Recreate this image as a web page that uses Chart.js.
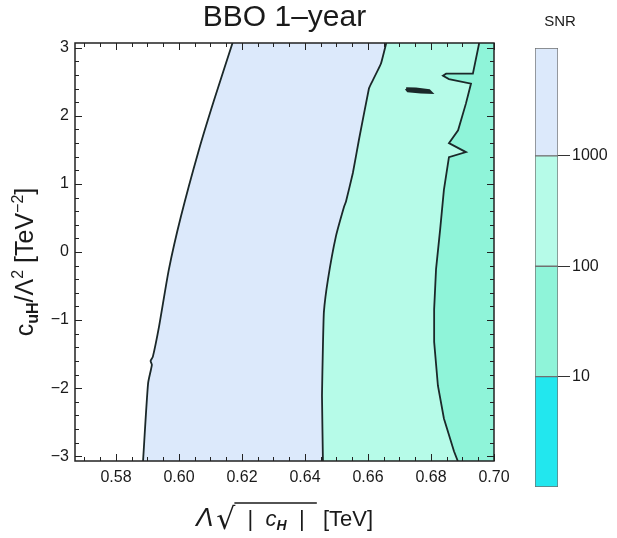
<!DOCTYPE html>
<html><head><meta charset="utf-8">
<script src="https://cdn.jsdelivr.net/npm/chart.js@4"></script>
<style>
html,body{margin:0;padding:0;background:#fff;}
#wrap{position:relative;width:617px;height:538px;overflow:hidden;}
#main{position:absolute;left:0;top:0;}
#bar{position:absolute;left:503px;top:0;}
</style></head><body>
<div id="wrap"><canvas id="main" width="617" height="538"></canvas><canvas id="bar" width="114" height="538"></canvas></div>
<script>
// ---- axes ----
const X_RANGE = [0.567, 0.7];
const Y_RANGE = [-3.07, 3.07];
const X_TICKS = [0.58, 0.60, 0.62, 0.64, 0.66, 0.68, 0.70];
const Y_TICKS = [-3, -2, -1, 0, 1, 2, 3];
const X_MINOR = 0.005;
const Y_MINOR = 0.2;

// ---- contour lines (x read at each y) ----
// boundary white / SNR>1000
const contourA_x = [0.5886, 0.5902, 0.5914, 0.5910, 0.5917, 0.5937, 0.5968, 0.6006, 0.6063, 0.6111, 0.6170];
const contourA_y = [-3.07, -1.93, -1.657, -1.60, -1.54, -1.088, -0.255, 0.518, 1.496, 2.226, 3.07];
// boundary SNR = 1000 / 100
const contourB_x = [0.6457, 0.6454, 0.6457, 0.6460, 0.6473, 0.6498, 0.6524, 0.6530, 0.6552, 0.6571, 0.6603, 0.6610, 0.6641, 0.6658];
const contourB_y = [-3.07, -2.109, -1.380, -0.883, -0.401, 0.226, 0.664, 0.737, 1.161, 1.642, 2.401, 2.474, 2.766, 3.07];
// boundary SNR = 100 / 10
const contourC_x = [0.6885, 0.6873, 0.6841, 0.6822, 0.6810, 0.6810, 0.6816, 0.6829, 0.6841, 0.6857, 0.6911, 0.6857, 0.6886, 0.6911, 0.6927, 0.6857, 0.6838, 0.6848, 0.6933, 0.6953];
const contourC_y = [-3.07, -2.927, -2.445, -1.964, -1.321, -0.839, -0.255, 0.328, 0.912, 1.394, 1.467, 1.599, 1.788, 2.183, 2.474, 2.540, 2.590, 2.620, 2.620, 3.07];
// small closed contour
const island_x = [0.6721, 0.6752, 0.6794, 0.6800, 0.6768, 0.6727, 0.6721];
const island_y = [2.401, 2.394, 2.372, 2.343, 2.350, 2.365, 2.401];

// ---- colour bar ----
const SNR_LEVELS = [1, 10, 100, 1000, 9500];
const SNR_TICKS = [10, 100, 1000];
const SNR_COLORS = ['#22e7ee', '#8ff4d9', '#b6fbe8', '#dce9fb'];

const FONT = '"Liberation Sans", Arial, sans-serif';
const LINE_COLOR = '#1b2829';
const TEXT_COLOR = '#1a1a1a';

const pts = (xs, ys) => xs.map((x, i) => ({x, y: ys[i]}));
// region right of a contour: contour + right edge of the plot
const region = (xs, ys) => pts(xs, ys).concat([{x: X_RANGE[1], y: Y_RANGE[1]}, {x: X_RANGE[1], y: Y_RANGE[0]}]);

const fillDs = (data, color) => ({data, showLine: true, fill: 'shape', backgroundColor: color,
  borderColor: 'rgba(0,0,0,0)', borderWidth: 0, pointRadius: 0, pointHoverRadius: 0, tension: 0});
const lineDs = (data, w, t) => ({data, showLine: true, fill: false, borderColor: LINE_COLOR,
  borderWidth: w, pointRadius: 0, pointHoverRadius: 0, tension: t});

const frameTicks = {
  id: 'frameTicks',
  afterDatasetsDraw(chart) {
    const {ctx, chartArea: a, scales: {x, y}} = chart;
    ctx.save();
    ctx.strokeStyle = '#222';
    ctx.lineWidth = 1;
    ctx.beginPath();
    for (let i = Math.ceil(X_RANGE[0] / X_MINOR - 1e-6); i <= Math.floor(X_RANGE[1] / X_MINOR + 1e-6); i++) {
      const v = i * X_MINOR;
      const major = X_TICKS.some(t => Math.abs(t - v) < 1e-6);
      const len = major ? 7 : 4;
      const px = Math.round(x.getPixelForValue(v)) + 0.5;
      ctx.moveTo(px, a.bottom); ctx.lineTo(px, a.bottom - len);
      ctx.moveTo(px, a.top); ctx.lineTo(px, a.top + len);
    }
    for (let i = Math.ceil(Y_RANGE[0] / Y_MINOR - 1e-6); i <= Math.floor(Y_RANGE[1] / Y_MINOR + 1e-6); i++) {
      const v = i * Y_MINOR;
      const major = Y_TICKS.some(t => Math.abs(t - v) < 1e-6);
      const len = major ? 7 : 4;
      const py = Math.round(y.getPixelForValue(v)) + 0.5;
      ctx.moveTo(a.left, py); ctx.lineTo(a.left + len, py);
      ctx.moveTo(a.right, py); ctx.lineTo(a.right - len, py);
    }
    ctx.stroke();
    ctx.lineWidth = 1.5;
    ctx.strokeRect(a.left, a.top, a.right - a.left, a.bottom - a.top);
    ctx.restore();
  }
};

function drawRich(ctx, segs, cx, cy, rot, base, barY) {
  ctx.save();
  ctx.translate(cx, cy);
  ctx.rotate(rot);
  let total = 0;
  segs.forEach(s => { ctx.font = s.font; s.w = ctx.measureText(s.t).width + (s.gap || 0); total += s.w; });
  let xx = -total / 2;
  ctx.fillStyle = TEXT_COLOR;
  ctx.strokeStyle = TEXT_COLOR;
  ctx.textBaseline = 'alphabetic';
  segs.forEach(s => { ctx.font = s.font; ctx.fillText(s.t, xx, base + (s.dy || 0)); s.x = xx; xx += s.w; });
  const barred = segs.filter(s => s.bar);
  if (barred.length) {
    ctx.lineWidth = 1.4;
    ctx.beginPath();
    ctx.moveTo(barred[0].x - 1, barY);
    const last = barred[barred.length - 1];
    ctx.lineTo(last.x + last.w, barY);
    ctx.stroke();
  }
  ctx.restore();
}

const axisTitles = {
  id: 'axisTitles',
  afterDraw(chart) {
    const ctx = chart.ctx;
    const yBig = '25px ' + FONT, ySmall = '16px ' + FONT;
    drawRich(ctx, [
      {t: 'c', font: yBig},
      {t: 'uH', font: 'bold ' + ySmall, dy: 5},
      {t: '/Λ', font: yBig},
      {t: '2', font: ySmall, dy: -10},
      {t: ' [TeV', font: yBig},
      {t: '−2', font: ySmall, dy: -10},
      {t: ']', font: yBig}
    ], 24, 262, -Math.PI / 2, 9);
    const a = chart.chartArea;
    const xBig = '22px ' + FONT, xSmall = '14px ' + FONT;
    drawRich(ctx, [
      {t: 'Λ', font: 'italic 26px ' + FONT, gap: 3},
      {t: '√', font: '30px "DejaVu Sans"', dy: 3},
      {t: '  |  ', font: xBig, bar: true},
      {t: 'c', font: 'italic ' + xBig, bar: true},
      {t: 'H', font: 'italic bold ' + xSmall, dy: 4, bar: true},
      {t: '  |  ', font: xBig, bar: true},
      {t: ' [TeV]', font: xBig}
    ], (a.left + a.right) / 2, 518, 0, 8, -15);
  }
};

new Chart(document.getElementById('main'), {
  type: 'scatter',
  data: {
    datasets: [
      lineDs(pts(contourA_x, contourA_y), 1.8, 0.2),
      lineDs(pts(contourB_x, contourB_y), 1.8, 0.1),
      lineDs(pts(contourC_x, contourC_y), 1.8, 0),
      lineDs(pts(island_x, island_y), 2.8, 0),
      fillDs(region(contourC_x, contourC_y), SNR_COLORS[1]),
      fillDs(region(contourB_x, contourB_y), SNR_COLORS[2]),
      fillDs(region(contourA_x, contourA_y), SNR_COLORS[3])
    ]
  },
  options: {
    responsive: false,
    animation: false,
    events: [],
    layout: {padding: {left: 0, right: 123, top: 0, bottom: 0}},
    plugins: {
      legend: {display: false},
      tooltip: {enabled: false},
      title: {
        display: true, text: 'BBO 1–year', fullSize: false, color: TEXT_COLOR,
        font: {family: FONT, size: 30, weight: 'normal', lineHeight: 1.2},
        padding: {top: 0, bottom: 7}
      }
    },
    scales: {
      x: {
        type: 'linear', min: X_RANGE[0], max: X_RANGE[1],
        afterBuildTicks: s => { s.ticks = X_TICKS.map(v => ({value: v})); },
        afterFit: s => { s.height = 77; },
        grid: {display: false, drawTicks: false},
        border: {display: false},
        ticks: {padding: 7, color: TEXT_COLOR, font: {family: FONT, size: 16}, maxRotation: 0,
          callback: v => Number(v).toFixed(2)}
      },
      y: {
        type: 'linear', min: Y_RANGE[0], max: Y_RANGE[1],
        afterBuildTicks: s => { s.ticks = Y_TICKS.map(v => ({value: v})); },
        afterFit: s => { s.width = 75; },
        grid: {display: false, drawTicks: false},
        border: {display: false},
        ticks: {padding: 6, color: TEXT_COLOR, font: {family: FONT, size: 16},
          callback: v => (v < 0 ? '−' + Math.abs(v) : String(v))}
      }
    }
  },
  plugins: [frameTicks, axisTitles]
});

new Chart(document.getElementById('bar'), {
  type: 'bar',
  data: {
    labels: ['SNR'],
    datasets: SNR_COLORS.map((c, i) => ({
      data: [[SNR_LEVELS[i], SNR_LEVELS[i + 1]]],
      xAxisID: 'x', yAxisID: 'y',
      backgroundColor: c, borderColor: '#707070', borderWidth: 1, borderSkipped: false,
      grouped: false, barPercentage: 1, categoryPercentage: 1
    }))
  },
  options: {
    responsive: false,
    animation: false,
    events: [],
    layout: {padding: {left: 0, right: 0, top: 0, bottom: 51}},
    plugins: {
      legend: {display: false},
      tooltip: {enabled: false},
      title: {display: true, text: 'SNR', color: TEXT_COLOR,
        font: {family: FONT, size: 15, weight: 'normal', lineHeight: 1.2},
        padding: {top: 13, bottom: 17}}
    },
    scales: {
      x: {display: false},
      y: {
        type: 'logarithmic', position: 'right', min: SNR_LEVELS[0], max: SNR_LEVELS[SNR_LEVELS.length - 1],
        z: 1,
        afterBuildTicks: s => { s.ticks = SNR_TICKS.map(v => ({value: v})); },
        afterFit: s => { s.width = 59; },
        grid: {color: '#333', lineWidth: 1, tickLength: 12, drawOnChartArea: true},
        border: {display: false},
        ticks: {padding: 2, color: TEXT_COLOR, font: {family: FONT, size: 16}, callback: v => String(v)}
      },
      pad: {
        type: 'linear', position: 'left', display: true,
        grid: {display: false}, border: {display: false}, ticks: {display: false},
        afterFit: s => { s.width = 32; }
      }
    }
  }
});
</script>
</body></html>
